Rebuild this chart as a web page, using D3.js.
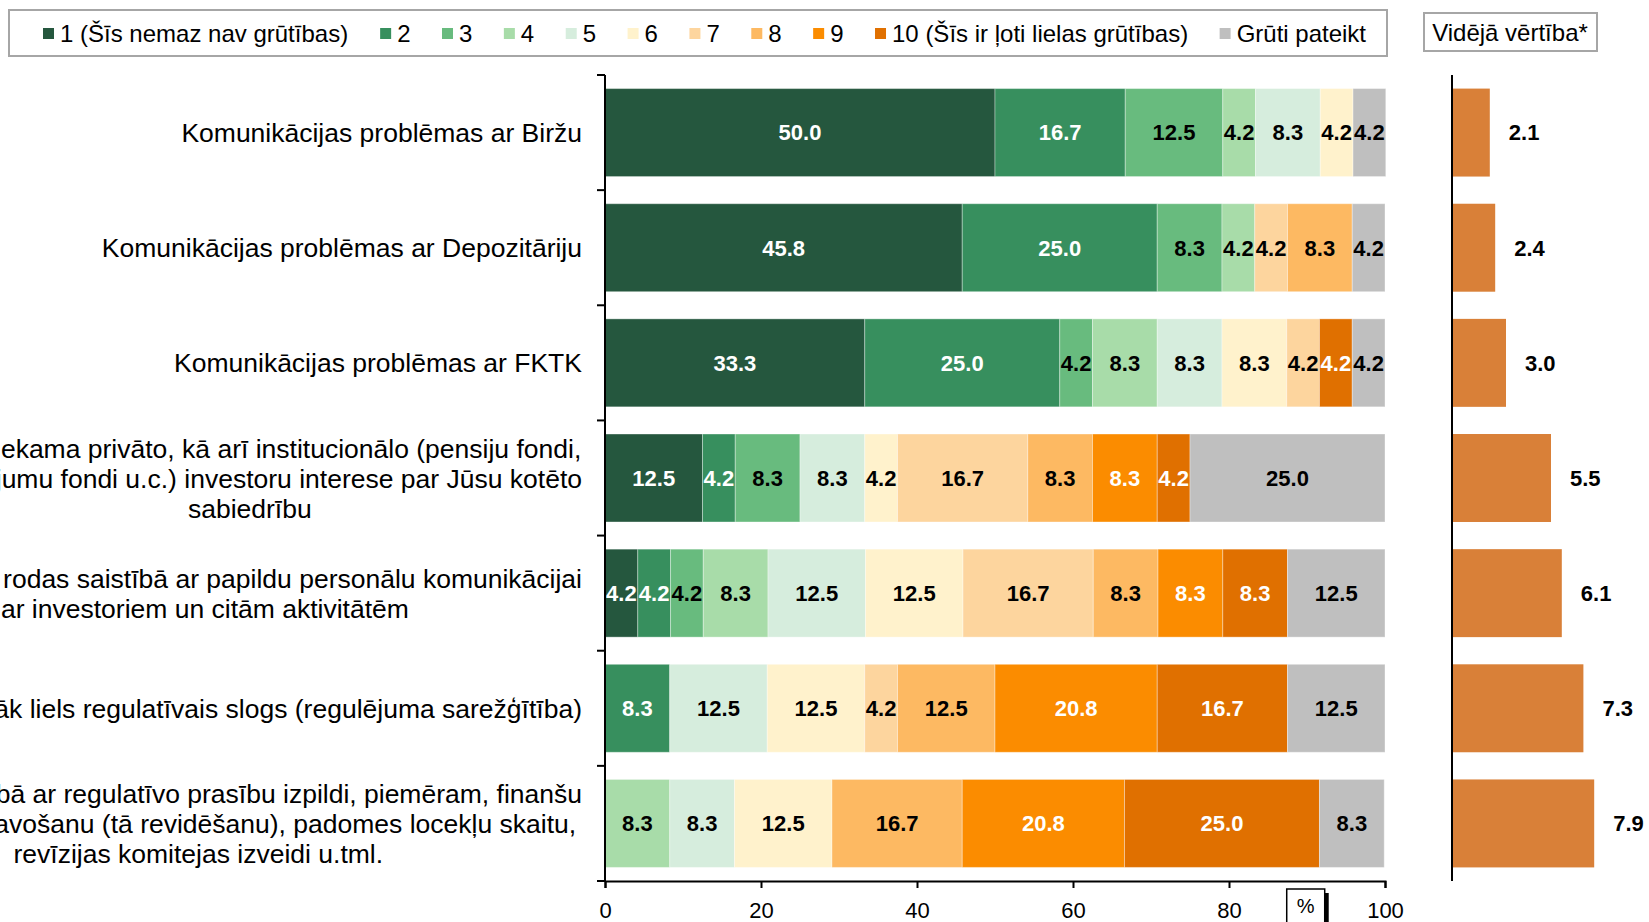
<!DOCTYPE html>
<html>
<head>
<meta charset="utf-8">
<script src="https://cdn.jsdelivr.net/npm/d3@7/dist/d3.min.js"></script>
<style>
  body { margin: 0; background: #fff; }
  text { font-family: "Liberation Sans", Arial, sans-serif; }
</style>
</head>
<body>
<svg id="chart" width="1649" height="922"></svg>
<script>
// category labels, already split in lines like in the original
const categories = [
  ["Komunikācijas problēmas ar Biržu"],
  ["Komunikācijas problēmas ar Depozitāriju"],
  ["Komunikācijas problēmas ar FKTK"],
  ["Nepietiekama privāto, kā arī institucionālo (pensiju fondi,",
   "ieguldījumu fondi u.c.) investoru interese par Jūsu kotēto",
   "sabiedrību"],
  ["Izmaksas, kas rodas saistībā ar papildu personālu komunikācijai",
   "ar investoriem un citām aktivitātēm"],
  ["Pārāk liels regulatīvais slogs (regulējuma sarežģītība)"],
  ["Izmaksas saistībā ar regulatīvo prasību izpildi, piemēram, finanšu",
   "pārskatu sagatavošanu (tā revidēšanu), padomes locekļu skaitu,",
   "revīzijas komitejas izveidi u.tml."]
];

const seriesNames = ["1 (Šīs nemaz nav grūtības)", "2", "3", "4", "5", "6", "7", "8", "9",
  "10 (Šīs ir ļoti lielas grūtības)", "Grūti pateikt"];
const seriesColors = ["#25573e", "#378f5e", "#68bb7e", "#a8dca9", "#d6eddd", "#fff2cc",
  "#fdd59e", "#fdb962", "#fb8c00", "#e07000", "#bfbfbf"];
const darkSeries = [0, 1, 8, 9]; // white labels on these

// shares in %, one row per category, columns follow seriesNames
const values = [
  [50.0, 16.7, 12.5, 4.2, 8.3, 4.2, 0, 0, 0, 0, 4.2],
  [45.8, 25.0, 8.3, 4.2, 0, 0, 4.2, 8.3, 0, 0, 4.2],
  [33.3, 25.0, 4.2, 8.3, 8.3, 8.3, 4.2, 0, 0, 4.2, 4.2],
  [12.5, 4.2, 8.3, 0, 8.3, 4.2, 16.7, 8.3, 8.3, 4.2, 25.0],
  [4.2, 4.2, 4.2, 8.3, 12.5, 12.5, 16.7, 8.3, 8.3, 8.3, 12.5],
  [0, 8.3, 0, 0, 12.5, 12.5, 4.2, 12.5, 20.8, 16.7, 12.5],
  [0, 0, 0, 8.3, 8.3, 12.5, 0, 16.7, 20.8, 25.0, 8.3]
];
const averages = [2.1, 2.4, 3.0, 5.5, 6.1, 7.3, 7.9];
const xTicks = [0, 20, 40, 60, 80, 100];

const svg = d3.select("#chart");
const x = d3.scaleLinear().domain([0, 100]).range([605, 1385]);
const y = d3.scaleBand().domain(d3.range(categories.length))
  .range([75, 881]).paddingInner(0.236).paddingOuter(0.118);
const xAvg = d3.scaleLinear().domain([0, 10]).range([1452, 1632]);

const keys = d3.range(seriesNames.length);
const table = values.map((v, i) => {
  const o = { row: i };
  keys.forEach(k => o[k] = v[k]);
  return o;
});
const stacked = d3.stack().keys(keys)(table);

// stacked bars
const layers = svg.append("g").selectAll("g")
  .data(stacked).join("g")
  .attr("fill", d => seriesColors[d.key]);

layers.selectAll("rect")
  .data(d => d.filter(s => s[1] - s[0] > 0))
  .join("rect")
  .attr("x", d => x(d[0]))
  .attr("y", d => y(d.data.row))
  .attr("width", d => x(d[1]) - x(d[0]))
  .attr("height", y.bandwidth())
  .attr("stroke", "#fff").attr("stroke-opacity", 0.35).attr("stroke-width", 1);

// value labels
stacked.forEach(layer => {
  svg.append("g").selectAll("text")
    .data(layer.filter(s => s[1] - s[0] > 0))
    .join("text")
    .attr("x", d => (x(d[0]) + x(d[1])) / 2)
    .attr("y", d => y(d.data.row) + y.bandwidth() / 2)
    .attr("dy", "0.36em")
    .attr("text-anchor", "middle")
    .attr("font-size", 22)
    .attr("font-weight", "bold")
    .attr("fill", darkSeries.includes(layer.key) ? "#fff" : "#000")
    .text(d => (d[1] - d[0]).toFixed(1));
});

// left axis with ticks between categories
const yTop = y.range()[0], yBot = y.range()[1];
svg.append("line").attr("x1", x(0)).attr("x2", x(0)).attr("y1", yTop).attr("y2", yBot)
  .attr("stroke", "#000").attr("stroke-width", 2);
svg.append("g").selectAll("line")
  .data(d3.range(categories.length + 1))
  .join("line")
  .attr("x1", x(0) - 8).attr("x2", x(0))
  .attr("y1", i => yTop + i * y.step()).attr("y2", i => yTop + i * y.step())
  .attr("stroke", "#000").attr("stroke-width", 2);

// bottom axis
const xAxis = svg.append("g")
  .attr("transform", `translate(0,${yBot})`)
  .call(d3.axisBottom(x).tickValues(xTicks).tickSize(7).tickPadding(14));
xAxis.select(".domain").attr("stroke-width", 2);
xAxis.selectAll(".tick line").attr("stroke-width", 2);
xAxis.selectAll("text").attr("font-size", 22).attr("font-family", "Liberation Sans, Arial, sans-serif");

// category labels
categories.forEach((lines, i) => {
  const cy = y(i) + y.bandwidth() / 2;
  const g = svg.append("g");
  const t = g.selectAll("text").data(lines).join("text")
    .attr("y", (d, j) => cy + (j - (lines.length - 1) / 2) * 30)
    .attr("dy", "0.36em")
    .attr("text-anchor", "middle")
    .attr("font-size", 26.5)
    .attr("fill", "#000")
    .text(d => d);
  const w = d3.max(t.nodes(), n => n.getComputedTextLength());
  t.attr("x", 582 - w / 2);
});

// average panel
svg.append("g").selectAll("rect")
  .data(averages).join("rect")
  .attr("x", xAvg(0))
  .attr("y", (d, i) => y(i))
  .attr("width", d => xAvg(d) - xAvg(0))
  .attr("height", y.bandwidth())
  .attr("fill", "#d98038");
svg.append("g").selectAll("text")
  .data(averages).join("text")
  .attr("x", d => xAvg(d) + 19)
  .attr("y", (d, i) => y(i) + y.bandwidth() / 2)
  .attr("dy", "0.36em")
  .attr("font-size", 22)
  .attr("font-weight", "bold")
  .text(d => d.toFixed(1));
svg.append("line").attr("x1", xAvg(0)).attr("x2", xAvg(0)).attr("y1", yTop).attr("y2", yBot)
  .attr("stroke", "#000").attr("stroke-width", 2);

// legend
svg.append("rect").attr("x", 9).attr("y", 10).attr("width", 1378).attr("height", 46)
  .attr("fill", "#fff").attr("stroke", "#a6a6a6").attr("stroke-width", 2);
let lx = 43;
seriesNames.forEach((name, i) => {
  svg.append("rect").attr("x", lx).attr("y", 28).attr("width", 11).attr("height", 11)
    .attr("fill", seriesColors[i]);
  const t = svg.append("text").attr("x", lx + 17).attr("y", 33).attr("dy", "0.36em")
    .attr("font-size", 24).text(name);
  lx += 17 + t.node().getComputedTextLength() + (i === 0 ? 32 : 31.5);
});

svg.append("rect").attr("x", 1424).attr("y", 13).attr("width", 173).attr("height", 38)
  .attr("fill", "#fff").attr("stroke", "#a6a6a6").attr("stroke-width", 2);
svg.append("text").attr("x", 1510).attr("y", 32).attr("dy", "0.36em")
  .attr("text-anchor", "middle").attr("font-size", 24).text("Vidējā vērtība*");

// unit box near the axis
const px = x(87.4);
svg.append("rect").attr("x", px + 4).attr("y", 893).attr("width", 38).attr("height", 40).attr("fill", "#000");
svg.append("rect").attr("x", px).attr("y", 889).attr("width", 38).attr("height", 40)
  .attr("fill", "#fff").attr("stroke", "#000").attr("stroke-width", 1.5);
svg.append("text").attr("x", px + 19).attr("y", 906).attr("dy", "0.36em")
  .attr("text-anchor", "middle").attr("font-size", 20).text("%");
</script>
</body>
</html>
